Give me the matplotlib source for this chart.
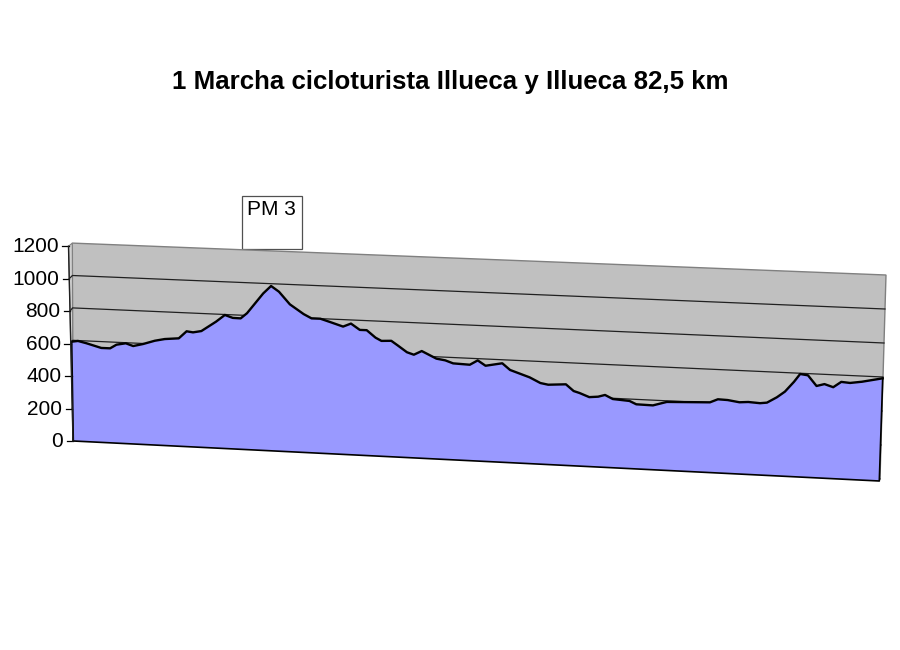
import numpy as np
import matplotlib
matplotlib.use('Agg')
import matplotlib.pyplot as plt
from matplotlib.patches import Polygon, Rectangle

plt.rcParams['font.family'] = ['Liberation Sans', 'DejaVu Sans']

# ==============================
# Datos del perfil
# ==============================
km = [0, 0.64, 1.5, 3.0, 3.9, 4.55, 5.5, 6.25, 7.26, 8.45, 9.47, 10.9, 11.7, 12.35, 13.2, 14.7,
      15.6, 16.4, 17.2, 17.85, 19.5, 20.3, 21.1, 22.2, 23.6, 24.4, 25.3, 26.3, 27.6, 28.4, 29.3,
      30.0, 30.9, 31.5, 32.5, 33.2, 34.1, 34.8, 35.6, 37.1, 38.0, 38.8, 40.5, 41.3, 42.1, 43.8,
      44.6, 46.6, 47.7, 48.5, 50.3, 51.1, 51.7, 52.7, 53.6, 54.3, 55.1, 56.8, 57.5, 59.2, 60.6,
      65.0, 65.8, 66.8, 68.0, 68.9, 70.1, 70.8, 71.8, 72.6, 73.5, 74.1, 74.9, 75.8, 76.6, 77.5,
      78.3, 79.2, 80.4, 82.5]
altitud = [612, 618, 606, 581, 581, 605, 616, 601, 616, 639, 652, 660, 705, 700, 710, 771,
           814, 798, 797, 830, 954, 1001, 968, 894, 838, 814, 814, 796, 772, 792, 756,
           756, 713, 695, 698, 670, 633, 620, 644, 602, 594, 578, 574, 602, 572, 591,
           553, 514, 483, 475, 482, 444, 434, 412, 417, 429, 407, 400, 382, 380, 404,
           413, 433, 431, 421, 425, 421, 426, 460, 495, 555, 602, 596, 536, 549, 533,
           566, 562, 572, 597]
ticks_alt = [0, 200, 400, 600, 800, 1000, 1200]
titulo = '1 Marcha cicloturista Illueca y Illueca 82,5 km'
puerto_km = 20.3
puerto_txt = 'PM 3'
km_total = 82.5
alt_max = 1200


# ==============================
# Proyeccion pseudo 3D (plano frontal y pared del fondo)
# ==============================
def frente(k, a):
    k, a = np.asarray(k, float), np.asarray(a, float)
    t = k / km_total
    xi = 73.3 - 0.0026 * a
    xd = 879.3 + 0.0057 * a
    y = 441 + 40 * t - a * (0.1623 + 0.0097 * t)
    return xi + (xd - xi) * t, y


def fondo(k, a):
    k, a = np.asarray(k, float), np.asarray(a, float)
    t = k / km_total
    xi = 73 - 0.7 * a / alt_max
    xd = 880 + 6 * a / alt_max
    y = 437.5 + 41.5 * t - a * (0.162 + 0.008 * t)
    return xi + (xd - xi) * t, y


def eje(a):
    a = np.asarray(a, float)
    return 73 - 4.5 * a / alt_max, 441 - 0.1623 * a


fig = plt.figure(figsize=(9, 6.5), dpi=100)
ax = fig.add_axes([0, 0, 1, 1])
ax.set_xlim(0, 900)
ax.set_ylim(650, 0)
ax.axis('off')

# Pared del fondo
esquinas = [fondo(0, 0), fondo(0, alt_max), fondo(km_total, alt_max), fondo(km_total, 0)]
ax.add_patch(Polygon(esquinas, facecolor='#C0C0C0', edgecolor='#808080', lw=1, zorder=1))

# Pared izquierda
lado = [eje(0), eje(alt_max), fondo(0, alt_max), fondo(0, 0)]
ax.add_patch(Polygon(lado, facecolor='#D0D0D0', edgecolor='#808080', lw=0.8, zorder=1))

# Lineas de division
for a in ticks_alt:
    xe, ye = eje(a)
    xa, ya = fondo(0, a)
    xb, yb = fondo(km_total, a)
    if a < alt_max:
        ax.plot([xe, xa, xb], [ye, ya, yb], color='#202020', lw=0.9, zorder=2)
    ax.plot([xe - 6.5, xe], [ye, ye], color='black', lw=0.9, zorder=5)
    ax.text(xe - 10, ye + 0.6, str(a), ha='right', va='center', fontsize=15, color='black')
xe, ye = eje(np.array(ticks_alt))
ax.plot(xe, ye, color='#202020', lw=1, zorder=5)

# Recuadro del puerto
px, _ = frente(puerto_km, 1000)
ax.add_patch(Rectangle((px - 29, 195.7), 59.7, 53.6, facecolor='white', edgecolor='#505050', lw=0.9, zorder=0.5))
ax.text(px + 0.7, 209.5, puerto_txt, ha='center', va='center', fontsize=15, color='black', zorder=6)

# Area del perfil
xs, ys = frente(km, altitud)
xb, yb = frente([km_total, 0], [0, 0])
ax.add_patch(Polygon(np.column_stack([np.r_[xs, xb], np.r_[ys, yb]]),
                     facecolor='#9999FF', edgecolor='none', zorder=3))
ax.plot(xs, ys, color='black', lw=1.7, solid_joinstyle='round', zorder=4)
ax.plot(np.r_[xs[-1], xb, xs[0]], np.r_[ys[-1], yb, ys[0]], color='black', lw=1.2, zorder=4)

ax.text(450, 82, titulo, ha='center', va='center', fontsize=18.6, fontweight='bold', color='black')

fig.savefig('out.png', dpi=100)
